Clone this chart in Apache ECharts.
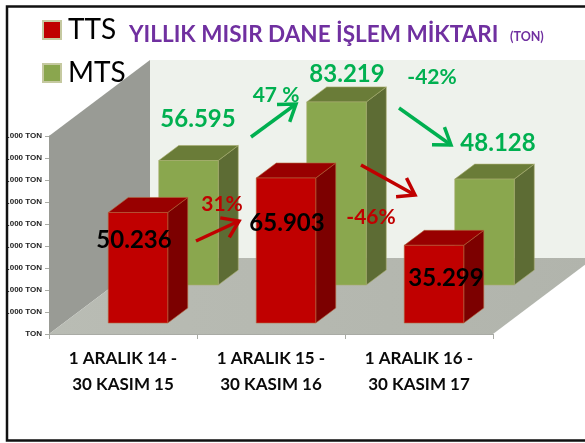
<!DOCTYPE html>
<html>
<head>
<meta charset="utf-8">
<title>YILLIK MISIR DANE İŞLEM MİKTARI</title>
<style>
  html, body { margin: 0; background: #fff; }
  #chart { width: 585px; height: 443px; }
</style>
<script src="https://cdn.jsdelivr.net/npm/echarts@6/dist/echarts.min.js"></script>
</head>
<body>
<div id="chart"></div>
<script>
const categories = ['1 ARALIK 14 -\n30 KASIM 15', '1 ARALIK 15 -\n30 KASIM 16', '1 ARALIK 16 -\n30 KASIM 17']
const ttsValues = [50236, 65903, 35299]
const mtsValues = [56595, 83219, 48128]
const ttsChange = ['31%', '-46%']
const mtsChange = ['47 %', '-42%']

const FONT = 'Lato, "Open Sans", sans-serif'
const GREEN_TEXT = '#00b050'
const RED_TEXT = '#c00000'

// 1000 separator is a dot in the original
const fmt = v => String(v).replace(/\B(?=(\d{3})+$)/g, '.')

// one bar is a front face + top + side, depth is how far it sits back on the floor
function barItem(depth, colors) {
  return function (params, api) {
    const top = api.coord([api.value(0), api.value(1)])
    const base = api.coord([api.value(0), 0])
    const x0 = top[0] + depth.x - 29.75
    const x1 = x0 + 59.5
    const yTop = top[1] - depth.y
    const yBase = base[1] - depth.y
    const dx = 20
    const dy = 15
    const edge = { stroke: colors.edge, lineWidth: 0.6 }
    return {
      type: 'group',
      children: [
        { type: 'polygon', shape: { points: [[x1, yTop], [x1 + dx, yTop - dy], [x1 + dx, yBase - dy], [x1, yBase]] }, style: { fill: colors.side, ...edge } },
        { type: 'polygon', shape: { points: [[x0, yTop], [x0 + dx, yTop - dy], [x1 + dx, yTop - dy], [x1, yTop]] }, style: { fill: colors.top, ...edge } },
        { type: 'rect', shape: { x: x0, y: yTop, width: x1 - x0, height: yBase - yTop }, style: { fill: colors.front, ...edge } }
      ]
    }
  }
}

// side wall, back wall and floor
function roomItem(params, api) {
  const o = api.coord([0, 0])
  const top = api.coord([0, 90000])
  const w = api.size([1, 0])[0]
  const left = o[0] - w / 2
  const right = left + w * 3
  const dx = 101
  const dy = 76
  return {
    type: 'group',
    children: [
      { type: 'rect', shape: { x: left + dx, y: top[1] - dy, width: right - left, height: o[1] - top[1] }, style: { fill: '#eef2ec' } },
      { type: 'polygon', shape: { points: [[left, o[1]], [left + dx, o[1] - dy], [left + dx, top[1] - dy], [left, top[1]]] },
        style: { fill: '#999b95' } },
      { type: 'polygon', shape: { points: [[left, o[1]], [right, o[1]], [right + dx, o[1] - dy], [left + dx, o[1] - dy]] },
        style: { fill: new echarts.graphic.LinearGradient(0, 0, 1, 0, [{ offset: 0, color: '#b9bcb4' }, { offset: 1, color: '#b1b4ac' }]) } }
    ]
  }
}

function note(text, x, y, color, size) {
  return {
    type: 'text', x, y, z: 20,
    style: { text, fill: color, font: `bold ${size}px ${FONT}`, align: 'center', verticalAlign: 'middle' }
  }
}

// shaft and open head, z goes on the children or the room paints over them
function arrow(from, to, color) {
  const a = Math.atan2(to[1] - from[1], to[0] - from[0])
  const len = 19
  const wing = s => [to[0] - len * Math.cos(a + s * 0.6), to[1] - len * Math.sin(a + s * 0.6)]
  return [
    { type: 'line', z: 20, shape: { x1: from[0], y1: from[1], x2: to[0], y2: to[1] }, style: { stroke: color, lineWidth: 3.5 } },
    { type: 'polyline', z: 20, shape: { points: [wing(1), to, wing(-1)] }, style: { stroke: color, lineWidth: 3.5, fill: null } }
  ]
}

const chart = echarts.init(document.getElementById('chart'))

chart.setOption({
  animation: false,
  backgroundColor: '#fff',
  legend: {
    data: ['TTS', 'MTS'],
    orient: 'vertical',
    left: 37,
    top: 11,
    itemWidth: 18,
    itemHeight: 18,
    itemGap: 15,
    icon: 'rect',
    textStyle: { fontFamily: FONT, fontSize: 28, color: '#000', padding: [0, 0, 0, 2] },
    selectedMode: false
  },
  // v6 shrinks the grid when labels overflow, the frame clips them here anyway
  grid: { left: 49, right: 92, top: 136, bottom: 109, outerBoundsMode: 'none' },
  xAxis: {
    type: 'category',
    data: categories,
    axisLine: { lineStyle: { color: '#a9aba5', width: 1 } },
    axisTick: { show: true, length: 5, lineStyle: { color: '#a9aba5' } },
    axisLabel: { fontFamily: FONT, fontWeight: 'bold', fontSize: 17, color: '#0a0a0a', lineHeight: 26, margin: 12 }
  },
  yAxis: {
    type: 'value',
    min: 0,
    max: 90000,
    interval: 10000,
    axisLine: { show: true, lineStyle: { color: '#a9aba5', width: 1 } },
    axisTick: { show: true, length: 4, lineStyle: { color: '#a9aba5' } },
    splitLine: { show: false },
    axisLabel: {
      fontFamily: '"Liberation Sans", sans-serif',
      fontWeight: 'bold',
      fontSize: 8,
      color: '#222',
      margin: 7,
      formatter: v => (v === 0 ? 'TON' : fmt(v) + ' TON')
    }
  },
  series: [
    {
      name: 'room',
      type: 'custom',
      z: 1,
      data: [[0, 0]],
      encode: { x: 0, y: 1 },
      renderItem: roomItem,
      silent: true
    },
    {
      name: 'MTS',
      type: 'custom',
      z: 2,
      itemStyle: { color: '#8aa64e', borderColor: '#c5c9a0', borderWidth: 0.7 },
      data: mtsValues.map((v, i) => [i, v]),
      encode: { x: 0, y: 1 },
      renderItem: barItem({ x: 65.5, y: 49 }, { front: '#8aa74e', top: '#6a7c38', side: '#5d6c34', edge: '#a8ac6e' })
    },
    {
      name: 'TTS',
      type: 'custom',
      z: 3,
      itemStyle: { color: '#c00000', borderColor: '#c5c9a0', borderWidth: 0.7 },
      data: ttsValues.map((v, i) => [i, v]),
      encode: { x: 0, y: 1 },
      renderItem: barItem({ x: 15, y: 11 }, { front: '#c00000', top: '#980000', side: '#7c0000', edge: '#b5643c' })
    }
  ],
  graphic: [
    // the slide frame cuts the first digit of the axis labels
    { type: 'rect', z: 30, shape: { x: 0, y: 0, width: 8, height: 443 }, style: { fill: '#fff' } },
    { type: 'rect', z: 31, shape: { x: 7, y: 6.5, width: 600, height: 434 }, style: { fill: null, stroke: '#111', lineWidth: 2.5 } },

    { type: 'text', x: 129, y: 35, z: 20, style: { text: 'YILLIK MISIR DANE İŞLEM MİKTARI', fill: '#7030a0', font: `bold 22.5px ${FONT}`, verticalAlign: 'middle' } },
    { type: 'text', x: 510, y: 37, z: 20, style: { text: '(TON)', fill: '#7030a0', font: `bold 12.5px ${FONT}`, verticalAlign: 'middle' } },

    note(fmt(mtsValues[0]), 198, 119, GREEN_TEXT, 24),
    note(fmt(mtsValues[1]), 347, 74, GREEN_TEXT, 24),
    note(fmt(mtsValues[2]), 498, 143, GREEN_TEXT, 24),
    note(fmt(ttsValues[0]), 134, 240, '#000', 24),
    note(fmt(ttsValues[1]), 287, 223, '#000', 24),
    note(fmt(ttsValues[2]), 446, 278, '#000', 24),

    note(ttsChange[0], 222, 204, RED_TEXT, 21),
    note(ttsChange[1], 371, 217, RED_TEXT, 21),
    note(mtsChange[0], 276, 95, GREEN_TEXT, 21),
    note(mtsChange[1], 432, 77, GREEN_TEXT, 21),

    ...arrow([251, 137], [296, 104], GREEN_TEXT),
    ...arrow([399, 108], [451, 145], GREEN_TEXT),
    ...arrow([196, 241], [239, 221], RED_TEXT),
    ...arrow([361, 165], [415, 195], RED_TEXT)
  ]
})
</script>
</body>
</html>
